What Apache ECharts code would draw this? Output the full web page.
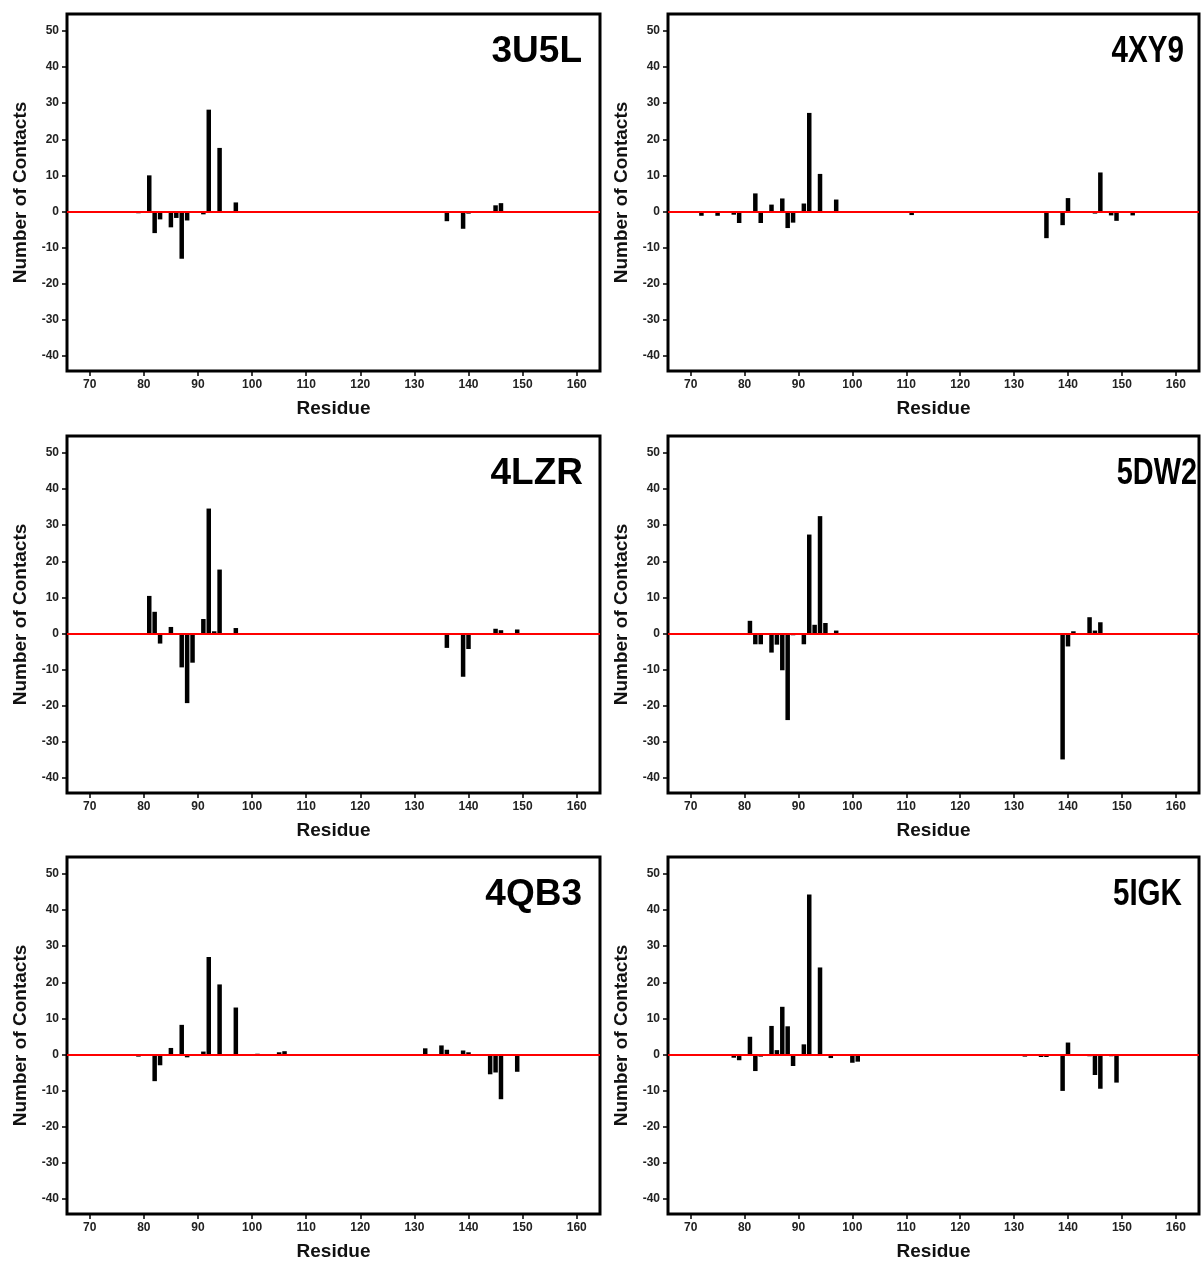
<!DOCTYPE html>
<html>
<head>
<meta charset="utf-8">
<script src="https://cdn.jsdelivr.net/npm/echarts@6/dist/echarts.min.js"></script>
<style>
  html, body { margin: 0; padding: 0; background: #fff; }
  #chart { width: 1201px; height: 1263px; }
</style>
</head>
<body>
<div id="chart"></div>
<script>
// panel names, left to right, top to bottom
const panelNames = ['3U5L', '4XY9', '4LZR', '5DW2', '4QB3', '5IGK'];

// tick labels
const xTicks = [70, 80, 90, 100, 110, 120, 130, 140, 150, 160];
const yTicks = [-40, -30, -20, -10, 0, 10, 20, 30, 40, 50];

// residue / contact-count pairs per structure
const res3U5L = [79, 81, 82, 83, 85, 86, 87, 88, 91, 92, 94, 97, 136, 139, 140, 145, 146];
const val3U5L = [-0.5, 10, -6, -2.2, -4.4, -1.8, -13.1, -2.5, -0.8, 28.2, 17.6, 2.5, -2.7, -4.8, -0.6, 1.7, 2.3];

const res4XY9 = [72, 75, 76, 77, 78, 79, 81, 82, 83, 85, 87, 88, 89, 91, 92, 94, 97, 111, 136, 139, 140, 145, 146, 148, 149, 151, 152, 155];
const val4XY9 = [-1.2, -1.2, -0.4, -0.3, -0.9, -3.2, -0.4, 5, -3.2, 1.9, 3.6, -4.6, -3.1, 2.2, 27.3, 10.4, 3.3, -1, -7.4, -3.8, 3.7, -0.6, 10.8, -1.1, -2.6, -0.3, -1.1, -0.3];

const res4LZR = [81, 82, 83, 85, 87, 88, 89, 91, 92, 93, 94, 97, 136, 139, 140, 145, 146, 149];
const val4LZR = [10.4, 6, -2.8, 1.8, -9.4, -19.3, -8.1, 4, 34.6, 0.6, 17.7, 1.5, -4, -12, -4.3, 1.3, 0.9, 1.1];

const res5DW2 = [81, 82, 83, 85, 86, 87, 88, 89, 91, 92, 93, 94, 95, 97, 136, 139, 140, 141, 144, 145, 146];
const val5DW2 = [3.5, -3, -3, -5.3, -3.1, -10.2, -24, -0.5, -3, 27.4, 2.4, 32.5, 2.9, 0.8, -0.4, -34.9, -3.6, 0.6, 4.5, 0.8, 3.1];

const res4QB3 = [79, 82, 83, 85, 87, 88, 91, 92, 94, 97, 101, 105, 106, 132, 135, 136, 139, 140, 144, 145, 146, 149];
const val4QB3 = [-0.6, -7.4, -3, 1.8, 8.2, -0.8, 0.8, 27, 19.4, 13, 0.2, 0.6, 0.9, 1.7, 2.5, 1.3, 1.1, 0.6, -5.5, -5, -12.4, -4.8];

const res5IGK = [78, 79, 81, 82, 83, 85, 86, 87, 88, 89, 91, 92, 94, 96, 100, 101, 132, 135, 136, 139, 140, 144, 145, 146, 148, 149];
const val5IGK = [-0.9, -1.6, 4.9, -4.6, -0.6, 7.9, 1.2, 13.2, 7.8, -3.2, 2.8, 44.3, 24.1, -1, -2.3, -2, -0.6, -0.7, -0.7, -10.1, 3.3, -0.5, -5.7, -9.5, -0.5, -7.8];

const panelRes = [res3U5L, res4XY9, res4LZR, res5DW2, res4QB3, res5IGK];
const panelVal = [val3U5L, val4XY9, val4LZR, val5DW2, val4QB3, val5IGK];

// layout
const gridLefts = [67, 668];
const gridWidths = [533, 531];
const gridTops = [14, 436, 857];
const gridHeight = 357;
// right edge and horizontal squeeze of each panel label
const titleRight = [582, 1184, 583, 1197, 582, 1182];
const titleScale = [1, 0.8, 1, 0.78, 1, 0.8];

const font = 'Liberation Sans, Arial, Helvetica, sans-serif';
const chart = echarts.init(document.getElementById('chart'));

const grid = [], xAxis = [], yAxis = [], series = [], graphic = [];

panelNames.forEach((name, i) => {
  const col = i % 2;
  const row = Math.floor(i / 2);
  grid.push({
    left: gridLefts[col],
    top: gridTops[row],
    width: gridWidths[col],
    height: gridHeight,
    show: true,
    borderColor: '#000',
    borderWidth: 3,
    backgroundColor: '#fff',
  });
  xAxis.push({
    gridIndex: i,
    type: 'value',
    min: 65.8,
    max: 164.3,
    name: 'Residue',
    nameLocation: 'middle',
    nameGap: 28,
    nameTextStyle: { fontFamily: font, fontWeight: 'bold', fontSize: 19, color: '#111' },
    splitLine: { show: false },
    axisLine: { show: false, onZero: false },
    axisTick: {
      show: true, length: 5, customValues: xTicks,
      lineStyle: { color: '#000', width: 1.5 },
    },
    axisLabel: {
      customValues: xTicks, margin: 8,
      fontFamily: font, fontWeight: 'bold', fontSize: 12, color: '#222',
    },
  });
  yAxis.push({
    gridIndex: i,
    type: 'value',
    min: -44.2,
    max: 54.7,
    name: 'Number of Contacts',
    nameLocation: 'middle',
    nameGap: 37,
    nameTextStyle: { fontFamily: font, fontWeight: 'bold', fontSize: 19, color: '#111' },
    splitLine: { show: false },
    axisLine: { show: false, onZero: false },
    axisTick: {
      show: true, length: 5, customValues: yTicks,
      lineStyle: { color: '#000', width: 1.5 },
    },
    axisLabel: {
      customValues: yTicks, margin: 8,
      fontFamily: font, fontWeight: 'bold', fontSize: 12, color: '#222',
    },
  });
  series.push({
    type: 'bar',
    xAxisIndex: i,
    yAxisIndex: i,
    barWidth: 4.5,
    itemStyle: { color: '#000' },
    data: panelRes[i].map((r, k) => [r, panelVal[i][k]]),
    markLine: {
      silent: true,
      symbol: ['none', 'none'],
      label: { show: false },
      lineStyle: { color: '#ff0000', width: 2, type: 'solid' },
      data: [{ yAxis: 0 }],
    },
  });
  graphic.push({
    type: 'text',
    x: titleRight[i],
    y: gridTops[row] + 38,
    scaleX: titleScale[i],
    z: 100,
    style: {
      text: name,
      fill: '#000',
      font: 'bold 37px ' + font,
      textAlign: 'right',
      textVerticalAlign: 'middle',
    },
  });
});

chart.setOption({
  animation: false,
  graphic: graphic,
  grid: grid,
  xAxis: xAxis,
  yAxis: yAxis,
  series: series,
});
</script>
</body>
</html>
